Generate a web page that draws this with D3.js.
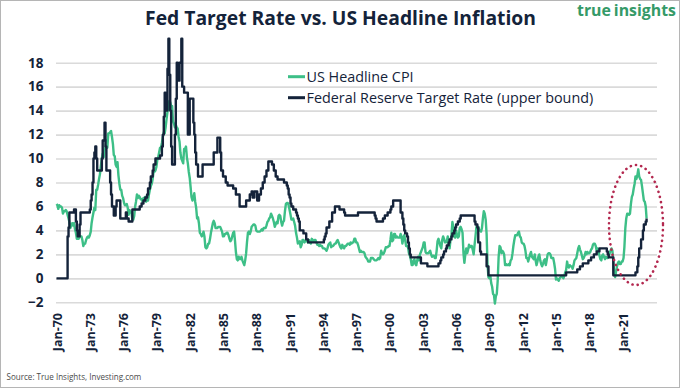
<!DOCTYPE html>
<html><head><meta charset="utf-8">
<script src="https://cdn.jsdelivr.net/npm/d3@7"></script>
<style>
html,body{margin:0;padding:0;background:#fff;}
svg{display:block;}
</style>
</head><body>
<svg id="chart" width="680" height="388"></svg>
<script>
// ---------------- DATA ----------------
const titleText = "Fed Target Rate vs. US Headline Inflation";
const sourceText = "Source: True Insights, Investing.com";
const seriesNames = ["US Headline CPI", "Federal Reserve Target Rate (upper bound)"];
const yTicks = [-2, 0, 2, 4, 6, 8, 10, 12, 14, 16, 18];
const xTickYears = [1970, 1973, 1976, 1979, 1982, 1985, 1988, 1991, 1994, 1997, 2000, 2003, 2006, 2009, 2012, 2015, 2018, 2021];

// US headline CPI, year-over-year %, monthly from Jan 1970
const cpiStart = "1970-01";
const cpiValues = [
  6.2,6.1,5.8,6.1,6.0,6.0,5.9,5.4,5.6,5.6,5.7,5.6,
  5.3,5.0,4.7,4.2,4.4,4.6,4.4,4.6,4.1,3.8,3.3,3.3,
  3.3,3.5,3.5,3.5,3.2,2.7,2.9,2.9,3.2,3.4,3.5,3.4,
  3.6,3.9,4.6,5.1,5.5,5.9,5.7,7.4,7.4,7.8,8.3,8.7,
  9.4,10.0,10.4,10.1,10.7,10.9,11.5,10.9,12.1,12.1,12.2,12.3,
  11.8,11.2,10.3,10.2,9.5,9.3,9.7,8.6,7.9,7.4,7.4,6.9,
  6.7,6.3,6.1,6.1,6.2,5.9,5.3,5.7,5.5,5.5,4.9,4.9,
  5.2,6.0,6.4,7.0,6.7,6.9,6.8,6.6,6.6,6.4,6.7,6.7,
  6.8,6.4,6.6,6.5,7.0,7.4,7.7,7.9,8.3,8.9,8.9,9.0,
  9.3,9.9,10.1,10.5,10.9,10.9,11.3,11.8,12.2,12.1,12.6,13.3,
  13.9,14.2,14.8,14.7,14.4,14.4,13.1,12.9,12.6,12.8,12.6,12.5,
  11.8,11.4,10.5,10.0,9.8,9.6,10.8,10.8,11.0,10.1,9.6,8.9,
  8.4,7.6,6.8,6.5,6.7,7.1,6.4,5.9,5.0,5.1,4.6,3.8,
  3.7,3.5,3.6,3.9,3.5,2.6,2.5,2.6,2.9,2.9,3.3,3.8,
  4.2,4.6,4.8,4.6,4.2,4.2,4.2,4.3,4.3,4.3,4.1,3.9,
  3.5,3.5,3.7,3.7,3.8,3.8,3.6,3.3,3.1,3.2,3.5,3.8,
  3.9,3.1,2.2,1.6,1.5,1.8,1.6,1.6,1.8,1.5,1.3,1.1,
  1.5,2.1,3.0,3.8,3.9,3.7,3.9,4.3,4.4,4.5,4.5,4.4,
  4.0,3.9,3.9,3.9,3.9,4.0,4.1,4.0,4.2,4.2,4.2,4.4,
  4.7,4.8,5.0,5.1,5.4,5.2,5.0,4.7,4.3,4.5,4.7,4.6,
  5.2,5.3,5.2,4.7,4.4,4.7,4.8,5.6,6.2,6.3,6.3,6.1,
  5.7,5.3,4.9,4.9,5.0,4.7,4.4,3.8,3.4,2.9,3.0,3.1,
  2.6,2.8,3.2,3.2,3.0,3.1,3.2,3.1,3.0,3.2,3.0,2.9,
  3.3,3.2,3.1,3.2,3.2,3.0,2.8,2.8,2.7,2.8,2.7,2.7,
  2.5,2.5,2.5,2.4,2.3,2.5,2.8,2.9,3.0,2.6,2.7,2.7,
  2.8,2.9,2.9,3.1,3.2,3.0,2.8,2.6,2.5,2.8,2.6,2.5,
  2.7,2.7,2.8,2.9,2.9,2.8,3.0,2.9,3.0,3.0,3.3,3.3,
  3.0,3.0,2.8,2.5,2.2,2.3,2.2,2.2,2.2,2.1,1.8,1.7,
  1.6,1.4,1.4,1.4,1.7,1.7,1.7,1.6,1.5,1.5,1.5,1.6,
  1.7,1.6,1.7,2.3,2.1,2.0,2.1,2.3,2.6,2.6,2.6,2.7,
  2.7,3.2,3.8,3.1,3.2,3.7,3.7,3.4,3.5,3.4,3.4,3.4,
  3.7,3.5,2.9,3.3,3.6,3.2,2.7,2.7,2.6,2.1,1.9,1.6,
  1.1,1.1,1.5,1.6,1.2,1.1,1.5,1.8,1.5,2.0,2.2,2.4,
  2.6,3.0,3.0,2.2,2.1,2.1,2.1,2.2,2.3,2.0,1.8,1.9,
  1.9,1.7,1.7,2.3,3.1,3.3,3.0,2.7,2.5,3.2,3.5,3.3,
  3.0,3.0,3.1,3.5,2.8,2.5,3.2,3.6,4.7,4.3,3.5,3.4,
  4.0,3.6,3.4,3.5,4.2,4.3,4.1,3.8,2.1,1.3,2.0,2.5,
  2.1,2.4,2.8,2.6,2.7,2.7,2.4,2.0,2.8,3.5,4.3,4.1,
  4.3,4.0,4.0,3.9,4.2,5.0,5.6,5.4,4.9,3.7,1.1,0.1,
  0.0,0.2,-0.4,-0.7,-1.3,-1.4,-2.1,-1.5,-1.3,-0.2,1.8,2.7,
  2.6,2.1,2.3,2.2,2.0,1.1,1.2,1.1,1.1,1.2,1.1,1.5,
  1.6,2.1,2.7,3.2,3.6,3.6,3.6,3.8,3.9,3.5,3.4,3.0,
  2.9,2.9,2.7,2.3,1.7,1.7,1.4,1.7,2.0,2.2,1.8,1.7,
  1.6,2.0,1.5,1.1,1.4,1.8,2.0,1.5,1.2,1.0,1.2,1.5,
  1.6,1.1,1.5,2.0,2.1,2.1,2.0,1.7,1.7,1.7,1.3,0.8,
  -0.1,0.0,-0.1,-0.2,0.0,0.1,0.2,0.2,0.0,0.2,0.5,0.7,
  1.4,1.0,0.9,1.1,1.0,1.0,0.8,1.1,1.5,1.6,1.7,2.1,
  2.5,2.7,2.4,2.2,1.9,1.6,1.7,1.9,2.2,2.0,2.2,2.1,
  2.1,2.2,2.4,2.5,2.8,2.9,2.9,2.7,2.3,2.5,2.2,1.9,
  1.6,1.5,1.9,2.0,1.8,1.6,1.8,1.7,1.7,1.8,2.1,2.3,
  2.5,2.3,1.5,0.3,0.1,0.6,1.0,1.3,1.4,1.2,1.2,1.4,
  1.4,1.7,2.6,4.2,5.0,5.4,5.4,5.3,5.4,6.2,6.8,7.0,
  7.5,7.9,8.5,8.3,8.6,9.1,8.5,8.3,8.2,7.7,7.1,6.5,
  6.4,6.0,5.0
];

// Federal Reserve target rate (upper bound): month of change -> new level
const fedDates = [
  "1970-01","1971-01","1971-02","1971-03","1971-08","1971-10","1971-11","1971-12","1972-02","1972-03",
  "1973-01","1973-02","1973-03","1973-04","1973-05","1973-06","1973-07","1973-08","1973-09",
  "1974-02","1974-03","1974-05","1974-06","1974-07","1974-11","1974-12",
  "1975-01","1975-03","1975-05","1975-06","1975-10",
  "1976-04","1976-05","1976-07","1976-11",
  "1977-07","1977-09","1977-11",
  "1978-01","1978-03","1978-04","1978-06","1978-07","1978-09","1978-10","1978-12",
  "1979-05","1979-07","1979-08","1979-09","1979-10","1979-11",
  "1980-01","1980-02","1980-03","1980-04","1980-05","1980-06","1980-09","1980-10","1980-11","1980-12",
  "1981-02","1981-04","1981-05","1981-07","1981-11",
  "1982-01","1982-05","1982-06","1982-07","1982-08","1982-10",
  "1983-03","1984-03","1984-07","1984-10","1984-11",
  "1985-01","1985-04","1985-06","1985-12",
  "1986-03","1986-07",
  "1987-02","1987-06","1987-08","1987-09","1987-11",
  "1988-02","1988-04","1988-06","1988-08","1988-10","1988-12",
  "1989-02","1989-06","1989-08","1989-10","1989-12",
  "1990-07","1990-10","1990-11","1990-12",
  "1991-01","1991-02","1991-03","1991-05","1991-08","1991-09","1991-10","1991-11","1991-12",
  "1992-04","1992-07","1992-09",
  "1994-02","1994-03","1994-04","1994-05","1994-08","1994-11",
  "1995-02","1995-07","1995-12","1996-01","1997-03",
  "1998-09","1998-10","1998-11",
  "1999-06","1999-08","1999-11",
  "2000-02","2000-03","2000-05",
  "2001-01","2001-03","2001-04","2001-05","2001-06","2001-08","2001-09","2001-10","2001-11","2001-12",
  "2002-11","2003-06",
  "2004-06","2004-08","2004-09","2004-11","2004-12",
  "2005-02","2005-03","2005-05","2005-06","2005-08","2005-09","2005-11","2005-12",
  "2006-01","2006-03","2006-05","2006-06",
  "2007-09","2007-10","2007-12",
  "2008-01","2008-03","2008-04","2008-10","2008-12",
  "2015-12","2016-12",
  "2017-03","2017-06","2017-12",
  "2018-03","2018-06","2018-09","2018-12",
  "2019-08","2019-09","2019-10",
  "2020-03",
  "2022-03","2022-05","2022-06","2022-07","2022-09","2022-11","2022-12",
  "2023-02","2023-03"
];
const fedRates = [
  0,3.5,4.25,5.5,5.75,4.75,4.0,3.5,4.5,5.5,
  5.75,6.5,7.0,8.0,10.0,10.5,11.0,10.0,9.0,
  10.0,11.5,13.0,11.0,9.0,8.0,7.0,
  6.0,5.25,6.0,6.5,5.0,
  5.5,5.0,4.75,5.75,
  6.0,6.25,6.5,
  6.75,7.0,7.5,8.0,8.5,9.0,9.5,10.0,
  10.25,11.0,12.0,13.5,15.5,14.0,
  17.5,20.0,17.0,14.0,11.0,9.5,12.0,15.0,18.0,16.5,
  18.0,20.0,16.0,15.5,12.0,
  15.0,13.0,12.0,10.5,9.5,8.5,
  9.5,10.5,11.75,10.5,9.0,
  8.5,8.0,7.75,7.5,
  7.0,6.0,
  6.5,7.0,7.25,6.75,7.25,
  6.5,7.0,7.5,8.0,8.5,9.0,
  9.75,9.5,9.0,8.5,8.25,
  8.0,7.75,7.5,7.0,
  6.75,6.25,6.0,5.75,5.5,5.25,5.0,4.75,4.0,
  3.75,3.25,3.0,
  3.25,3.5,3.75,4.25,4.75,5.5,
  6.0,5.75,5.5,5.25,5.5,
  5.25,5.0,4.75,
  5.0,5.25,5.5,
  5.75,6.0,6.5,
  5.5,5.0,4.5,4.0,3.75,3.5,3.0,2.5,2.0,1.75,
  1.25,1.0,
  1.25,1.5,1.75,2.0,2.25,
  2.5,2.75,3.0,3.25,3.5,3.75,4.0,4.25,
  4.5,4.75,5.0,5.25,
  4.75,4.5,4.25,
  3.0,2.25,2.0,1.0,0.25,
  0.5,0.75,
  1.0,1.25,1.5,
  1.75,2.0,2.25,2.5,
  2.25,2.0,1.75,
  0.25,
  0.5,1.0,1.75,2.5,3.25,4.0,4.5,
  4.75,5.0
];

// ---------------- DRAW ----------------
const W = 680, H = 388;
const NAVY = "#14233a", GREEN = "#3dbf87", GRID = "#dadada";
const FONT = "'Open Sans', 'DejaVu Sans', sans-serif";
const svg = d3.select("#chart");
const parse = d3.timeParse("%Y-%m");

const x = d3.scaleTime()
  .domain([new Date(1970, 0, 1), new Date(2021, 0, 1)])
  .range([56.5, 622.6]);
const y = d3.scaleLinear().domain([-2, 18]).range([302.3, 62.7]);

// border
svg.append("rect").attr("x", 0.5).attr("y", 0.5).attr("width", W - 1).attr("height", H - 1)
  .attr("fill", "#fff").attr("stroke", "#b5b5b5").attr("stroke-width", 1);

// gridlines + y labels
const yAxis = d3.axisLeft(y).tickValues(yTicks).tickSize(-(657 - 56)).tickPadding(12.5).tickFormat(d3.format("d"));
const gy = svg.append("g").attr("transform", "translate(56,0)").call(yAxis);
gy.select(".domain").remove();
gy.selectAll(".tick line").attr("stroke", GRID).attr("stroke-width", 1.6);
gy.selectAll(".tick text").attr("fill", NAVY).attr("font-family", FONT)
  .attr("font-weight", "bold").attr("font-size", 13.5);

// x labels
const xAxis = d3.axisBottom(x).tickValues(xTickYears.map(yr => new Date(yr, 0, 1)))
  .tickSize(0).tickFormat(d3.timeFormat("%b-%y"));
const gx = svg.append("g").attr("transform", "translate(0,311)").call(xAxis);
gx.select(".domain").remove();
gx.selectAll(".tick text")
  .attr("fill", NAVY).attr("font-family", FONT).attr("font-weight", "bold").attr("font-size", 12.5)
  .attr("text-anchor", "end").attr("transform", "rotate(-90)")
  .attr("x", -2).attr("y", 0).attr("dy", "0.36em");

// series data
const cpi = cpiValues.map((v, i) => ({ date: d3.timeMonth.offset(parse(cpiStart), i), value: v }));
const fed = fedDates.map((d, i) => ({ date: parse(d), value: fedRates[i] }));

const lineLin = d3.line().x(d => x(d.date)).y(d => y(d.value)).curve(d3.curveLinear);
const lineStep = d3.line().x(d => x(d.date)).y(d => y(d.value)).curve(d3.curveStepAfter);

svg.append("path").datum(cpi).attr("d", lineLin).attr("fill", "none")
  .attr("stroke", GREEN).attr("stroke-width", 2.4).attr("stroke-linejoin", "round");
svg.append("path").datum(fed).attr("d", lineStep).attr("fill", "none")
  .attr("stroke", NAVY).attr("stroke-width", 2.4).attr("stroke-linejoin", "round");

// highlight ellipse
svg.append("ellipse").attr("cx", 636).attr("cy", 225).attr("rx", 27).attr("ry", 60)
  .attr("fill", "none").attr("stroke", "#b3284f").attr("stroke-width", 2.6)
  .attr("stroke-linecap", "round").attr("stroke-dasharray", "0.1 5.2");

// legend
const legend = svg.append("g");
[[GREEN, 76.7, 81.5], [NAVY, 97.7, 102.5]].forEach((c, i) => {
  legend.append("rect").attr("x", 288).attr("y", c[1] - 1.5).attr("width", 17).attr("height", 3).attr("fill", c[0]);
  legend.append("text").attr("x", 306.5).attr("y", c[2]).text(seriesNames[i])
    .attr("fill", NAVY).attr("font-family", FONT).attr("font-size", 14);
});

// fit helper
function fit(sel, target) {
  const w = sel.node().getComputedTextLength();
  const fs = parseFloat(sel.attr("font-size"));
  sel.attr("font-size", fs * target / w);
}
fit(legend.selectAll("text").filter((d, i) => i === 1), 287);
legend.select("text").attr("font-size", legend.selectAll("text").filter((d, i) => i === 1).attr("font-size"));

// title
const t = svg.append("text").attr("x", 340.5).attr("y", 25).attr("text-anchor", "middle")
  .attr("fill", NAVY).attr("font-family", FONT).attr("font-weight", "bold").attr("font-size", 20)
  .text(titleText);
fit(t, 391);

// logo
const logo = svg.append("text").attr("x", 577).attr("y", 16).attr("fill", "#359a68")
  .attr("font-family", FONT).attr("font-weight", "bold").attr("font-size", 15);
logo.append("tspan").text("true");
logo.append("tspan").attr("dx", 3).text("insights");
fit(logo, 96);

// source
const s = svg.append("text").attr("x", 6.5).attr("y", 380).attr("fill", "#4a4a4a")
  .attr("font-family", FONT).attr("font-size", 9).text(sourceText);
fit(s, 135);
</script>
</body></html>
